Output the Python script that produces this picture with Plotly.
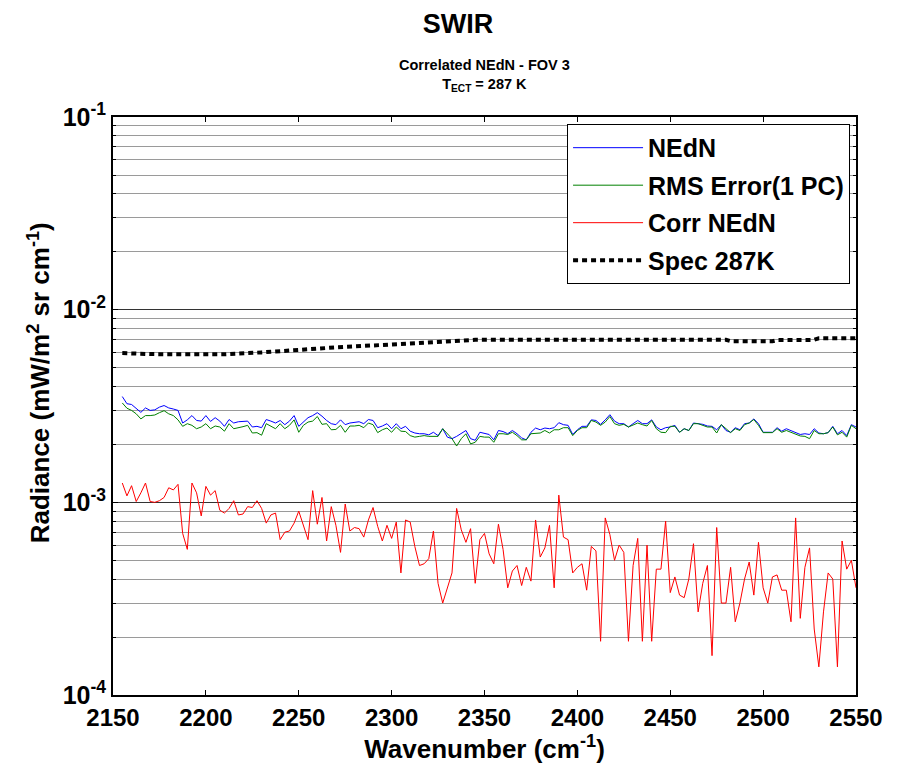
import plotly.graph_objs as go

# wavenumber grid of the spectra (cm-1), 2.5 cm-1 spacing
wavenumber = [2155 + 2.5 * i for i in range(159)]

# radiance values in units of 1e-3 mW/m2 sr cm-1
nedn = [3.54, 3.25, 3.22, 3.06, 2.93, 3.09, 3.00, 3.02, 3.12, 3.18, 3.09, 3.05, 3.00, 2.58, 2.68, 2.82, 2.66, 2.64,
        2.82, 2.63, 2.75, 2.64, 2.48, 2.69, 2.58, 2.62, 2.64, 2.64, 2.46, 2.48, 2.44, 2.69, 2.64, 2.58, 2.66, 2.53,
        2.64, 2.82, 2.48, 2.61, 2.75, 2.82, 2.92, 2.80, 2.66, 2.56, 2.53, 2.68, 2.53, 2.58, 2.59, 2.62,
        2.56, 2.69, 2.66, 2.44, 2.49, 2.56, 2.41, 2.56, 2.41, 2.48, 2.34, 2.29, 2.27, 2.27, 2.24, 2.31, 2.22, 2.41,
        2.18, 2.14, 2.20, 2.29, 2.36, 2.14, 2.10, 2.31, 2.27, 2.25, 2.11, 2.36, 2.33, 2.27, 2.36, 2.27, 2.16, 2.11,
        2.31, 2.43, 2.38, 2.43, 2.41, 2.44, 2.59, 2.53, 2.51, 2.25, 2.38, 2.48, 2.48, 2.68, 2.66, 2.54, 2.68, 2.85,
        2.64, 2.56, 2.56, 2.46, 2.56, 2.66, 2.56, 2.56, 2.68, 2.46, 2.38, 2.44, 2.46, 2.51, 2.31, 2.41, 2.36, 2.58,
        2.56, 2.54, 2.49, 2.48, 2.38, 2.53, 2.36, 2.31, 2.44, 2.38, 2.56, 2.58, 2.71, 2.56, 2.31, 2.31, 2.31, 2.44,
        2.34, 2.41, 2.36, 2.31, 2.25, 2.27, 2.25, 2.41, 2.29, 2.27, 2.30, 2.48, 2.27, 2.36, 2.22, 2.53, 2.46]

rms_error = [3.28, 3.08, 3.00, 2.88, 2.71, 2.82, 2.82, 2.84, 2.92, 2.99, 2.88, 2.82, 2.68, 2.48, 2.56, 2.51, 2.41, 2.46,
             2.56, 2.41, 2.49, 2.46, 2.34, 2.56, 2.41, 2.43, 2.47, 2.51, 2.29, 2.30, 2.23, 2.56, 2.49, 2.41, 2.56, 2.41,
             2.51, 2.68, 2.31, 2.51, 2.61, 2.64, 2.79, 2.54, 2.56, 2.38, 2.39, 2.51, 2.31, 2.49, 2.49, 2.51,
             2.44, 2.58, 2.53, 2.30, 2.38, 2.43, 2.31, 2.46, 2.34, 2.33, 2.22, 2.18, 2.20, 2.22, 2.20, 2.20, 2.20, 2.41,
             2.27, 2.14, 1.96, 2.14, 2.27, 2.01, 2.05, 2.20, 2.18, 2.18, 2.05, 2.27, 2.27, 2.25, 2.31, 2.22, 2.11, 2.11,
             2.27, 2.29, 2.29, 2.36, 2.29, 2.38, 2.38, 2.44, 2.44, 2.22, 2.36, 2.44, 2.44, 2.66, 2.61, 2.51, 2.61, 2.79,
             2.56, 2.51, 2.54, 2.46, 2.53, 2.58, 2.53, 2.49, 2.66, 2.41, 2.31, 2.30, 2.48, 2.48, 2.31, 2.41, 2.36, 2.56,
             2.56, 2.51, 2.46, 2.46, 2.29, 2.53, 2.41, 2.30, 2.41, 2.36, 2.53, 2.58, 2.69, 2.51, 2.30, 2.30, 2.30, 2.41,
             2.31, 2.36, 2.31, 2.27, 2.21, 2.20, 2.14, 2.36, 2.27, 2.27, 2.30, 2.46, 2.24, 2.31, 2.18, 2.51, 2.41]

corr_nedn = [1.26, 1.08, 1.22, 1.01, 1.12, 1.26, 1.01, 1.00, 1.02, 1.06, 1.19, 1.16, 1.24, 0.69, 0.57, 1.26, 1.12, 0.85,
             1.21, 1.09, 1.15, 0.91, 0.88, 0.93, 1.02, 0.86, 0.87, 0.95, 0.94, 1.02, 0.93, 0.78, 0.86, 0.88, 0.64, 0.70,
             0.71, 0.78, 0.90, 0.75, 0.64, 1.15, 0.77, 1.06, 0.63, 0.95, 0.76, 0.55, 0.98, 0.71, 0.74, 0.73,
             0.66, 0.81, 0.94, 0.75, 0.63, 0.76, 0.65, 0.79, 0.43, 0.81, 0.79, 0.59, 0.47, 0.48, 0.51, 0.71, 0.38, 0.30,
             0.36, 0.43, 0.93, 0.72, 0.62, 0.73, 0.38, 0.64, 0.69, 0.54, 0.48, 0.77, 0.57, 0.36, 0.44, 0.47, 0.37, 0.46,
             0.39, 0.81, 0.52, 0.58, 0.76, 0.36, 1.09, 0.66, 0.64, 0.43, 0.46, 0.48, 0.35, 0.59, 0.56, 0.19, 0.83, 0.68,
             0.50, 0.60, 0.55, 0.19, 0.47, 0.65, 0.19, 0.60, 0.19, 0.45, 0.45, 0.80, 0.34, 0.41, 0.33, 0.32, 0.40, 0.61,
             0.27, 0.38, 0.47, 0.16, 0.74, 0.30, 0.30, 0.46, 0.24, 0.30, 0.40, 0.49, 0.33, 0.62, 0.36, 0.30, 0.41, 0.42,
             0.35, 0.35, 0.24, 0.83, 0.25, 0.46, 0.58, 0.22, 0.14, 0.27, 0.43, 0.40, 0.14, 0.63, 0.45, 0.50, 0.36]

# spec curve
spec_wn = [2155, 2170, 2190, 2210, 2230, 2250, 2270, 2290, 2310, 2330, 2345, 2400, 2450, 2480, 2483, 2505, 2508,
           2527, 2530, 2550]
spec_val = [5.95, 5.88, 5.87, 5.87, 6.0, 6.2, 6.37, 6.52, 6.7, 6.87, 6.97, 6.97, 6.97, 6.97, 6.85, 6.85, 6.96,
            6.96, 7.1, 7.1]

x_ticks = [2150, 2200, 2250, 2300, 2350, 2400, 2450, 2500, 2550]
y_ticks = [1e-4, 1e-3, 1e-2, 1e-1]
y_ticktext = ["10<sup>-4</sup>", "10<sup>-3</sup>", "10<sup>-2</sup>", "10<sup>-1</sup>"]

scale = 1e-3
font = "Arial, Liberation Sans, sans-serif"


def bold(size):
    return dict(family=font, size=size, color="black", weight="bold")


fig = go.Figure()
series = [("NEdN", nedn, "#0000ff"), ("RMS Error(1 PC)", rms_error, "#008000"), ("Corr NEdN", corr_nedn, "#ff0000")]
for name, vals, col in series:
    fig.add_trace(go.Scatter(x=wavenumber, y=[v * scale for v in vals], name=name, legendgroup=name,
                             mode="lines", line=dict(color=col, width=1)))
fig.add_trace(go.Scatter(x=spec_wn, y=[v * scale for v in spec_val], name="Spec 287K", legendgroup="spec",
                         mode="lines", line=dict(color="black", width=4, dash="5px,4px")))

minor_vals = []
for d in [1e-4, 1e-3, 1e-2]:
    for k in range(2, 10):
        minor_vals.append(k * d)

# page body has an 8px offset, margins compensate for it
fig.update_layout(
    width=900, height=769,
    paper_bgcolor="white", plot_bgcolor="white",
    font=dict(family=font, color="black"),
    margin=dict(l=105, r=52, t=109, b=82),
    title=dict(text="SWIR", x=0.5, xanchor="center", y=0.98, yanchor="middle", font=bold(27)),
    annotations=[
        dict(text="Correlated NEdN - FOV 3<br>T<sub>ECT</sub> = 287 K",
             xref="paper", yref="paper", x=0.5, y=1.071, xanchor="center", yanchor="middle",
             showarrow=False, font=bold(14.5)),
        dict(text="Radiance (mW/m<sup>2</sup> sr cm<sup>-1</sup>)", textangle=-90,
             xref="paper", yref="paper", x=-0.099, y=0.54, xanchor="center", yanchor="middle",
             showarrow=False, font=bold(26)),
    ],
    showlegend=True,
    legend=dict(x=0.992, y=0.988, xanchor="right", yanchor="top", bgcolor="white",
                bordercolor="black", borderwidth=1, font=bold(25),
                tracegroupgap=2, itemwidth=70),
    xaxis=dict(range=[2150, 2550], tickvals=x_ticks, showgrid=False, zeroline=False,
               ticks="inside", ticklen=5, tickcolor="black", showline=True, linecolor="black",
               linewidth=2, mirror="ticks", tickfont=bold(24),
               title=dict(text="Wavenumber (cm<sup>-1</sup>)", font=bold(26), standoff=6)),
    yaxis=dict(type="log", range=[-4, -1], tickvals=y_ticks, ticktext=y_ticktext,
               showgrid=True, gridcolor="#333333", gridwidth=1, zeroline=False,
               ticks="inside", ticklen=5, tickcolor="black", showline=True, linecolor="black",
               linewidth=2, mirror="ticks", tickfont=bold(25),
               minor=dict(tickvals=minor_vals, showgrid=True, gridcolor="#9a9a9a", gridwidth=1,
                          ticks="inside", ticklen=3, tickcolor="black")),
)

fig.write_html("out.html")
